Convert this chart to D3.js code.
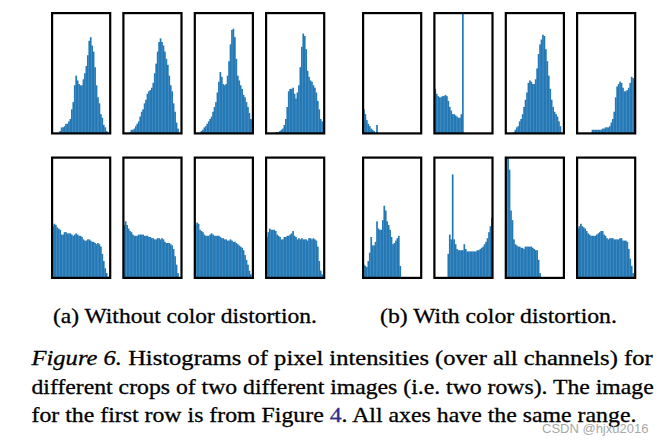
<!DOCTYPE html>
<html><head><meta charset="utf-8">
<script src="https://cdn.jsdelivr.net/npm/d3@7"></script>
<style>body{margin:0;background:#fff}svg{display:block}</style>
</head><body>
<svg id="c" width="665" height="446"></svg>
<script>
// Histogram bin heights (40 bins, % of axis height); row 1 = image 1, row 2 = image 2
const r1a1 = [0,0,0,0,0,2,5,5,6,8, 8,10,12,20,26,40,48,44,41,40, 40,45,50,56,65,77,80,73,68,55, 40,30,25,16,13,7,5,2,0,0];
const r1a2 = [0,0,0,0,1,3,3,4,6,8, 10,14,18,20,25,28,33,35,36,38, 42,50,58,68,76,79,76,73,68,62, 57,48,40,35,25,18,9,4,0,0];
const r1a3 = [0,0,0,0,2,3,5,6,8,10, 12,14,18,22,26,34,43,51,47,41, 40,41,48,60,74,86,87,80,62,48, 44,40,37,32,30,26,22,17,12,11];
const r1a4 = [0,0,0,0,0,0,1,1,1,2, 3,4,7,12,22,35,37,37,38,33, 29,34,40,55,72,83,81,70,52,47, 44,43,40,38,34,27,20,12,10,9];
const r1b1 = [20,16,11,8,6,4,3,2,0,7, 0,0,0,0,0,0,0,0,0,0, 0,0,0,0,0,0,0,0,0,0, 0,0,0,0,0,0,0,0,0,0];
const r1b2 = [37,33,31,30,30,31,31,32,31,27, 22,19,16,16,15,14,13,13,16,100, 0,0,0,0,0,0,0,0,0,0, 0,0,0,0,0,0,0,0,0,0];
const r1b3 = [0,0,0,0,0,1,3,5,6,10, 12,16,22,28,34,42,44,43,41,41, 45,54,66,74,78,82,81,70,60,48, 37,28,22,18,16,14,10,6,0,0];
const r1b4 = [0,0,0,0,0,0,0,0,0,0, 3,3,3,3,3,3,3,4,4,5, 5,5,6,9,12,18,30,39,41,43, 42,38,35,35,36,38,42,47,46,44];
const r2a1 = [43,45,44,42,41,40,36,36,38,38, 37,37,37,36,35,36,37,36,35,35, 34,32,31,31,32,32,31,30,30,29, 28,29,28,26,20,14,8,4,1,0];
const r2a2 = [44,47,44,41,39,38,36,35,35,35, 36,36,36,36,35,35,35,34,34,33, 33,32,32,33,33,32,33,32,30,29, 29,29,28,27,24,18,11,4,0,0];
const r2a3 = [44,46,45,40,39,38,36,35,35,35, 36,37,36,35,35,35,35,34,33,33, 32,32,31,31,32,31,30,30,29,28, 27,26,25,23,19,15,11,6,3,0];
const r2a4 = [34,38,41,40,40,40,39,36,35,34, 32,32,34,34,35,35,36,37,39,35, 34,32,33,32,33,32,32,32,31,33, 33,32,33,32,31,26,14,6,3,1];
const r2b1 = [11,10,9,14,21,34,27,27,30,47, 41,40,40,48,60,56,47,44,40,34, 28,29,31,33,35,10,0,0,0,0, 0,0,0,0,0,0,0,0,0,0];
const r2b2 = [0,0,0,0,0,0,0,0,0,20, 36,32,86,32,28,24,23,23,23,23, 28,24,22,22,22,22,22,22,22,23, 23,24,25,26,28,30,33,38,43,50];
const r2b3 = [100,100,90,56,48,32,28,27,26,26, 25,25,24,26,26,26,26,26,25,24, 23,23,15,4,0,0,0,0,0,0, 0,0,0,0,0,0,0,0,0,0];
const r2b4 = [41,43,45,43,42,41,39,37,36,35, 35,35,35,36,37,38,39,39,36,35, 33,32,33,33,33,32,32,32,32,33, 33,31,31,31,30,24,16,10,4,1];

const subcaptions = ["(a) Without color distortion.", "(b) With color distortion."];

const rows = [
  [r1a1, r1a2, r1a3, r1a4, r1b1, r1b2, r1b3, r1b4],
  [r2a1, r2a2, r2a3, r2a4, r2b1, r2b2, r2b3, r2b4]
];

const svg = d3.select("#c");
const colX = [51, 122.3, 193.7, 265, 362, 433.3, 504.7, 576];
const rowY = [12, 156.5];
const PW = 60.3, PH = 122.5, SW = 2.2;
const NB = 40;

rows.forEach((row, ri) => {
  row.forEach((data, ci) => {
    const x0 = colX[ci], y0 = rowY[ri];
    const x = d3.scaleLinear().domain([0, NB]).range([x0 + SW/2, x0 + PW - SW/2]);
    const y = d3.scaleLinear().domain([0, 100]).range([y0 + PH - SW/2, y0 + SW/2]);
    const g = svg.append("g");
    g.selectAll("rect.bar").data(data).join("rect")
      .attr("class", "bar")
      .attr("x", (d, i) => x(i))
      .attr("width", (d, i) => x(i + 1) - x(i) + 0.25)
      .attr("y", d => y(d))
      .attr("height", d => y(0) - y(d))
      .attr("fill", "#2378b5");
    g.append("rect")
      .attr("x", x0 + SW/2).attr("y", y0 + SW/2)
      .attr("width", PW - SW).attr("height", PH - SW)
      .attr("fill", "none").attr("stroke", "#000").attr("stroke-width", SW);
  });
});

const serif = "Liberation Serif";

function fitLine(sel, x, y, target) {
  const n = sel.node().getComputedTextLength();
  sel.attr("x", 0).attr("y", 0)
     .attr("transform", `translate(${x},${y}) scale(${target / n},1)`);
}

// subcaptions
const subPos = [[53, 264], [380, 237]];
subcaptions.forEach((s, i) => {
  const t = svg.append("text").attr("font-family", serif).attr("font-size", 22)
    .attr("fill", "#000").attr("stroke", "#000").attr("stroke-width", 0.3).text(s);
  fitLine(t, subPos[i][0], 323, subPos[i][1]);
});

// figure caption
const cap = svg.append("g").attr("font-family", serif).attr("font-size", 21)
  .attr("fill", "#000").attr("stroke", "#000").attr("stroke-width", 0.3);
const l1 = cap.append("text");
l1.append("tspan").attr("font-style", "italic").text("Figure 6.");
l1.append("tspan").text(" Histograms of pixel intensities (over all channels) for");
fitLine(l1, 31.5, 365, 621.5);
const l2 = cap.append("text").text("different crops of two different images (i.e. two rows). The image");
fitLine(l2, 31.5, 393.5, 622.5);
const l3 = cap.append("text");
l3.append("tspan").text("for the first row is from Figure ");
l3.append("tspan").attr("fill", "#2e2e8a").attr("stroke", "#2e2e8a").text("4");
l3.append("tspan").text(". All axes have the same range.");
fitLine(l3, 31.5, 422, 605.5);

// watermark (overlaps the last caption line, as in the reference)
svg.append("text").attr("x", 542).attr("y", 433)
  .attr("font-family", "Liberation Sans").attr("font-size", 13)
  .attr("fill", "#a8a8a8")
  .text("CSDN @hjxu2016");
</script>
</body></html>
